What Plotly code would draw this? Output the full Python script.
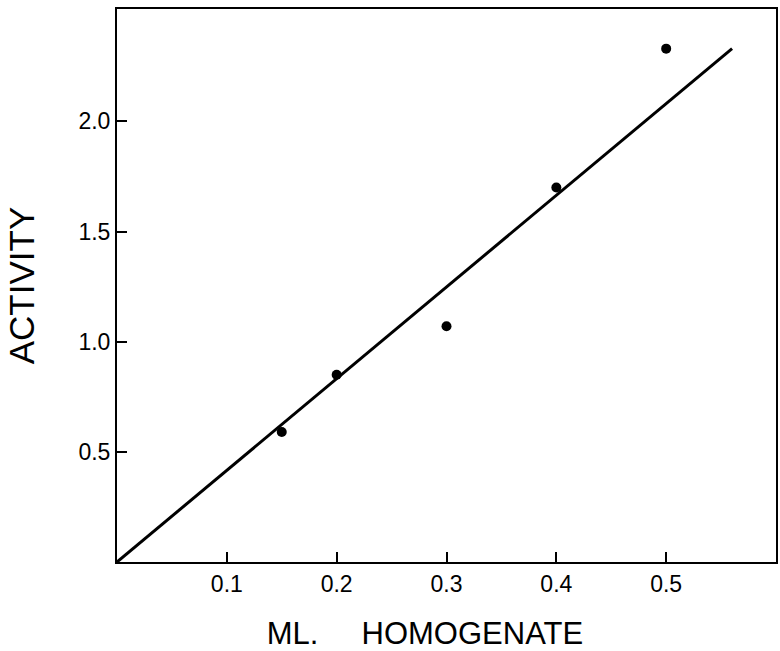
import plotly.graph_objects as go

# Data
ml_homogenate = [0.15, 0.20, 0.30, 0.40, 0.50]
activity = [0.59, 0.85, 1.07, 1.70, 2.33]

# Fitted line endpoints (x, y)
fit_x = [0.0, 0.56]
fit_y = [0.0, 2.33]

x_ticks = [0.1, 0.2, 0.3, 0.4, 0.5]
x_ticklabels = ["0.1", "0.2", "0.3", "0.4", "0.5"]
y_ticks = [0.5, 1.0, 1.5, 2.0]
y_ticklabels = ["0.5", "1.0", "1.5", "2.0"]

NB = "\u00a0"
ZW = "\u200b"
fig = go.Figure()
fig.add_trace(go.Scatter(x=fit_x, y=fit_y, mode="lines",
                         line=dict(color="black", width=3), showlegend=False))
fig.add_trace(go.Scatter(x=ml_homogenate, y=activity, mode="markers",
                         marker=dict(color="black", size=10), showlegend=False))

font_family = "Liberation Sans, Arial, sans-serif"
fig.update_layout(
    width=780, height=651,
    margin=dict(l=117, r=2, t=9, b=88),
    paper_bgcolor="white", plot_bgcolor="white",
    font=dict(family=font_family, color="black"),
    xaxis=dict(range=[0, 0.6], tickvals=x_ticks, ticktext=x_ticklabels,
               ticks="inside", ticklen=10, tickwidth=1.5, tickcolor="black",
               showline=True, linecolor="black", linewidth=2, mirror=True,
               showgrid=False, zeroline=False,
               tickfont=dict(size=23),
               title=dict(text="ML." + NB * 5 + "HOMOGENATE" + NB * 5 + ZW,
                          font=dict(size=31), standoff=31)),
    yaxis=dict(range=[0, 2.51], tickvals=y_ticks, ticktext=y_ticklabels,
               ticks="inside", ticklen=10, tickwidth=1.5, tickcolor="black",
               showline=True, linecolor="black", linewidth=2, mirror=True,
               showgrid=False, zeroline=False,
               tickfont=dict(size=23),
               title=dict(text="ACTIVITY", font=dict(size=35), standoff=33)),
)

fig.write_html("out.html")
